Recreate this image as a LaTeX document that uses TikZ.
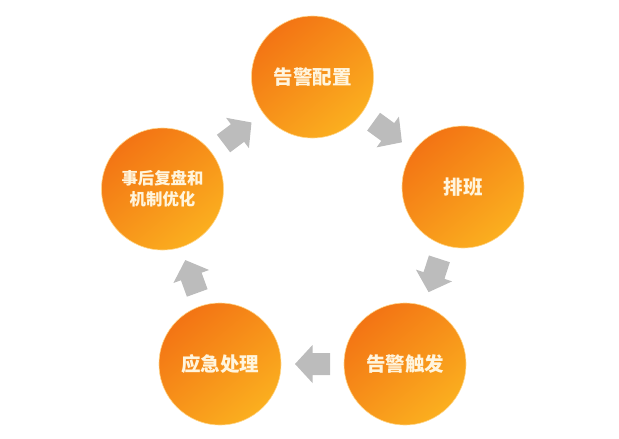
\documentclass[tikz,border=0pt]{standalone}
\usepackage{fontspec}
\newfontfamily\cjk{Noto Sans CJK SC}
\usetikzlibrary{calc}
\definecolor{odark}{HTML}{F37414}
\definecolor{olight}{HTML}{FBAF1F}
\definecolor{orim}{HTML}{FFD68A}
\definecolor{agray}{HTML}{BCBCBC}
\definecolor{tcol}{HTML}{FFF5DE}
\newcommand\flowarrow[3]{%
  \begin{scope}[shift={($(#1)!0.5!(#2)$)}, rotate=#3]
    \fill[agray] (-17.5,-11) -- (0,-11) -- (0,-19) -- (17.5,0) -- (0,19) -- (0,11) -- (-17.5,11) -- cycle;
  \end{scope}}
\begin{document}
\begin{tikzpicture}[x=1pt,y=1pt,
  stage/.style={circle, minimum size=122pt, inner sep=0pt,
    top color=odark, bottom color=olight, shading angle=40,
    draw=orim, line width=0.6pt, text=tcol, align=center,
    font=\cjk\bfseries\fontsize{19.5}{22}\selectfont},
  smalltext/.style={font=\cjk\bfseries\fontsize{16.4}{21}\selectfont}]
\useasboundingbox (0,0) rectangle (619,-439);
\node[stage] (cfg)    at (312.5,-77)  {告警配置};
\node[stage] (duty)   at (463,-187)   {排班};
\node[stage] (fire)   at (405,-364)   {告警触发};
\node[stage] (resp)   at (220,-364)   {应急处理};
\node[stage, smalltext] (review) at (162.5,-189) {事后复盘和\\机制优化};
\flowarrow{cfg}{duty}{-36}
\flowarrow{duty}{fire}{-108}
\flowarrow{fire}{resp}{180}
\flowarrow{resp}{review}{110}
\flowarrow{review}{cfg}{37}
\end{tikzpicture}
\end{document}
